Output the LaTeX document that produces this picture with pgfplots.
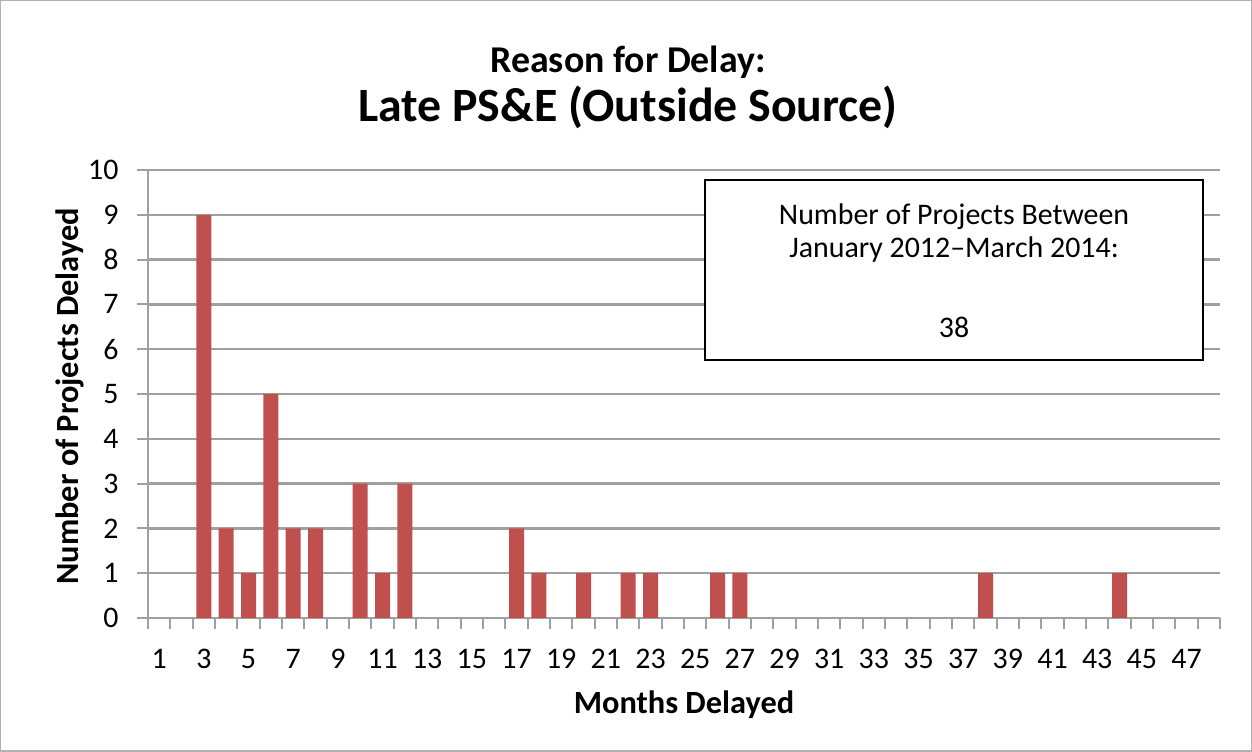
\documentclass[border=0pt]{standalone}
\usepackage{pgfplots}
\pgfplotsset{compat=1.18}
\usepackage{fontspec}
\setmainfont{Carlito}
\definecolor{barred}{HTML}{C0504D}
\definecolor{gridgray}{HTML}{A0A0A0}
\begin{document}
\begin{tikzpicture}[x=1bp,y=1bp]
\draw[draw=gray!60, line width=1.5bp] (0.75,0.75) rectangle (1251.25,751.25);
\begin{axis}[
  at={(148bp,134bp)}, anchor=south west,
  scale only axis, width=1072bp, height=448bp,
  xmin=0.5, xmax=48.5, ymin=0, ymax=10,
  axis x line*=bottom, axis y line*=left,
  axis line style={gridgray, line width=2bp},
  ymajorgrids, major grid style={gridgray, line width=2.5bp},
  ytick={0,...,10},
  xtick={1,3,...,47},
  minor xtick={0.5,1.5,...,48.5},
  tick align=outside,
  major x tick style={draw=none},
  minor x tick style={gridgray, line width=2bp},
  minor tick length=11bp, major tick length=11bp,
  major y tick style={gridgray, line width=2bp},
  tick label style={font=\fontsize{30}{30}\selectfont},
  xticklabel style={yshift=-17bp},
  yticklabel style={xshift=-15bp},
  /pgf/number format/assume math mode=true,
  xlabel={\textbf{Months Delayed}},
  ylabel={\textbf{Number of Projects Delayed}},
  label style={font=\fontsize{32.5}{32.5}\selectfont},
  xlabel style={at={(axis description cs:0.5,-0.194)}, anchor=center},
  ylabel style={at={(axis description cs:-0.073,0.495)}, anchor=center},
  clip=false,
]
\addplot[ybar, bar width=15bp, fill=barred, draw=none] coordinates {
(3,9) (4,2) (5,1) (6,5) (7,2) (8,2) (10,3) (11,1) (12,3)
(17,2) (18,1) (20,1) (22,1) (23,1) (26,1) (27,1) (38,1) (44,1)
};
\end{axis}
\node[font=\bfseries\fontsize{38}{38}\selectfont] at (628,690) {Reason for Delay:};
\node[font=\bfseries\fontsize{48}{48}\selectfont] at (628,645) {Late PS\&E (Outside Source)};
\draw[fill=white, draw=black, line width=1.5bp] (705,392) rectangle (1203,572);
\node[font=\fontsize{30}{30}\selectfont] at (954,535) {Number of Projects Between};
\node[font=\fontsize{30}{30}\selectfont] at (954,502) {January 2012–March 2014:};
\node[font=\fontsize{30}{30}\selectfont] at (954,425) {38};
\end{tikzpicture}
\end{document}
